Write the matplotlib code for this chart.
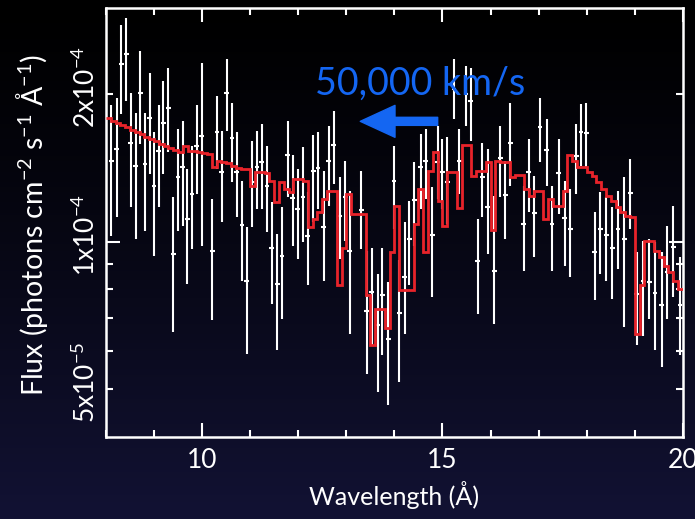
import numpy as np
import matplotlib
matplotlib.use('Agg')
import matplotlib.pyplot as plt
import matplotlib.transforms as mtransforms
from matplotlib.patches import ArrowStyle

plt.rcParams['font.family'] = ['Lato', 'DejaVu Sans']
plt.rcParams['mathtext.fontset'] = 'custom'
plt.rcParams['mathtext.rm'] = 'Lato'
plt.rcParams['mathtext.it'] = 'Lato:italic'
plt.rcParams['mathtext.bf'] = 'Lato:bold'

# observed spectrum (flux in 1e-4 photons cm^-2 s^-1 A^-1)
wave = [8.11, 8.22, 8.32, 8.42, 8.51, 8.62, 8.71, 8.81, 8.91, 9.00,
        9.10, 9.19, 9.30, 9.40, 9.50, 9.60, 9.69, 9.79, 9.89, 9.99,
        10.21, 10.31, 10.41, 10.51, 10.62, 10.72, 10.83, 10.93, 11.04, 11.14,
        11.24, 11.35, 11.45, 11.56, 11.66, 11.78, 11.88, 11.99,
        12.10, 12.20, 12.31, 12.41, 12.53, 12.63, 12.74, 12.86, 12.98, 13.07,
        13.31, 13.42, 13.53, 13.65, 13.75, 13.87, 13.99,
        14.10, 14.21, 14.31, 14.41, 14.55, 14.65, 14.79, 14.90, 15.00, 15.10,
        15.24, 15.35, 15.49, 15.59, 15.73, 15.83, 15.94,
        16.08, 16.20, 16.31, 16.41, 16.69, 16.79, 16.91, 17.03, 17.17, 17.28,
        17.42, 17.54, 17.66, 17.78, 17.88, 17.99,
        18.17, 18.28, 18.41, 18.53, 18.65, 18.78, 18.91, 19.04, 19.18, 19.30,
        19.42, 19.56, 19.68, 19.80, 19.94]
flux = [1.464, 1.546, 2.302, 2.412, 1.595, 1.430, 2.014, 1.441, 1.793, 1.302,
        1.534, 1.752, 1.873, 0.945, 1.354, 1.424, 1.114, 1.252, 1.570, 1.645,
        0.957, 1.677, 1.390, 2.014, 1.628, 1.386, 1.085, 0.832, 1.323, 1.419,
        1.453, 1.302, 0.974, 0.821, 0.934, 1.503, 1.229, 1.167,
        1.233, 1.030, 1.398, 1.413, 1.071, 1.464, 1.575, 1.131, 1.233, 0.960,
        1.163, 0.722, 0.790, 0.676, 0.778, 0.633, 1.333,
        0.717, 0.848, 1.014, 1.219, 1.419, 1.464, 1.033, 1.453, 1.386, 1.325,
        2.048, 1.464, 2.000, 1.939, 0.913, 1.354, 1.178,
        0.871, 1.482, 1.246, 1.595, 1.088, 1.386, 1.145, 1.717, 1.541, 1.088,
        1.381, 1.118, 1.063, 1.496, 1.675, 1.670,
        0.952, 1.063, 1.035, 0.972, 1.063, 1.014, 1.256, 0.784, 0.834, 0.829,
        0.788, 0.744, 0.868, 0.975, 0.742]
flux_hi = [1.902, 1.969, 2.776, 2.860, 2.014, 1.836, 2.450, 1.836, 2.214, 1.672,
           1.902, 2.129, 2.266, 1.233, 1.698, 1.766, 1.408, 1.570, 1.902, 2.320,
           1.223, 1.982, 1.685, 2.356, 1.924, 1.672, 1.333, 1.071, 1.607, 1.685,
           1.738, 1.570, 1.204, 1.038, 1.177, 1.766, 1.501, 1.408,
           1.559, 1.262, 1.651, 1.672, 1.398, 1.725, 1.850, 1.354, 1.464, 1.272,
           1.398, 0.960, 0.974, 0.861, 0.974, 0.828, 1.570,
           0.917, 1.096, 1.213, 1.453, 1.659, 1.698, 1.292, 1.725, 1.620, 1.635,
           2.356, 1.698, 2.283, 2.266, 1.114, 1.595, 1.546,
           1.243, 1.725, 1.464, 1.924, 1.302, 1.620, 1.365, 1.969, 1.779, 1.302,
           1.620, 1.333, 1.282, 1.738, 1.908, 1.924,
           1.149, 1.262, 1.233, 1.177, 1.272, 1.354, 1.475, 0.953, 1.006, 1.014,
           0.998, 0.953, 1.079, 1.185, 0.931]
flux_lo = [1.030, 1.122, 1.821, 1.939, 1.176, 1.014, 1.583, 1.055, 1.375, 0.938,
           1.177, 1.375, 1.523, 0.655, 1.055, 1.079, 0.822, 0.968, 1.252, 0.983,
           0.692, 1.408, 1.096, 1.685, 1.323, 1.122, 0.834, 0.592, 1.071, 1.167,
           1.167, 1.046, 0.748, 0.601, 0.697, 1.233, 0.983, 0.924,
           0.998, 0.815, 1.096, 1.167, 0.834, 1.185, 1.312, 0.924, 1.006, 0.650,
           0.968, 0.539, 0.615, 0.495, 0.587, 0.465, 1.063,
           0.519, 0.650, 0.815, 0.983, 1.167, 1.223, 0.772, 1.223, 1.167, 1.088,
           1.779, 1.252, 1.725, 1.607, 0.714, 1.122, 0.945,
           0.681, 1.235, 1.014, 1.302, 0.874, 1.149, 0.931, 1.453, 1.302, 0.874,
           1.140, 0.895, 0.848, 1.252, 1.430, 1.419,
           0.760, 0.861, 0.834, 0.766, 0.881, 0.671, 1.063, 0.615, 0.644, 0.697,
           0.601, 0.557, 0.697, 0.772, 0.587]

# absorbed model, 0.1 A bins from 8 to 20 A
model = [1.787, 1.766, 1.750, 1.730, 1.714, 1.694, 1.674, 1.659, 1.639, 1.620,
         1.605, 1.586, 1.568, 1.557, 1.539, 1.525, 1.570, 1.534, 1.532, 1.525,
         1.517, 1.510, 1.421, 1.462, 1.455, 1.448, 1.430, 1.414, 1.408, 1.408,
         1.302, 1.390, 1.390, 1.382, 1.333, 1.208, 1.323, 1.282, 1.262, 1.343,
         1.343, 1.331, 1.073, 1.114, 1.151, 1.223, 1.272, 1.272, 0.815, 0.974,
         1.252, 1.140, 1.140, 1.140, 0.778, 0.615, 0.731, 0.731, 0.668, 0.954,
         1.185, 0.799, 0.799, 0.799, 1.088, 1.282, 0.953, 1.398, 1.527, 1.213,
         1.079, 1.390, 1.390, 1.172, 1.575, 1.575, 1.365, 1.398, 1.398, 1.453,
         1.057, 1.464, 1.453, 1.453, 1.356, 1.369, 1.369, 1.282, 1.243, 1.272,
         1.272, 1.114, 1.223, 1.185, 1.185, 1.272, 1.503, 1.464, 1.419, 1.419,
         1.386, 1.365, 1.323, 1.282, 1.243, 1.213, 1.177, 1.149, 1.131, 1.122,
         0.650, 0.815, 1.006, 1.006, 0.960, 0.931, 0.895, 0.868, 0.834, 0.802]

ytick_vals = [5e-5, 1e-4, 2e-4]
ytick_text = [r'$\mathregular{5x10^{-5}}$', r'$\mathregular{1x10^{-4}}$',
              r'$\mathregular{2x10^{-4}}$']

scale = 1e-4
w = np.array(wave)
f = np.array(flux) * scale
yerr = [(np.array(flux) - np.array(flux_lo)) * scale,
        (np.array(flux_hi) - np.array(flux)) * scale]
edges = 8.0 + 0.1 * np.arange(len(model) + 1)

fig = plt.figure(figsize=(6.95, 5.19), dpi=100)

# dark backdrop: black at the top fading to navy at the bottom
bg = fig.add_axes([0, 0, 1, 1], zorder=0)
t = np.linspace(0, 1, 256) ** 1.25
grad = np.zeros((256, 1, 3))
grad[:, 0, 0] = 18 / 255 * t
grad[:, 0, 1] = 18 / 255 * t
grad[:, 0, 2] = 52 / 255 * t
bg.imshow(grad, aspect='auto', extent=[0, 1, 0, 1], origin='upper')
bg.set_axis_off()

ax = fig.add_axes([0.1525, 0.158, 0.83, 0.8265], zorder=1)
ax.set_facecolor('none')

ax.errorbar(w, f, yerr=yerr, xerr=0.05, fmt='none', ecolor='white',
            elinewidth=1.5, capsize=0, zorder=2)
ax.stairs(np.array(model) * scale, edges, color='#e8232a', linewidth=2.0,
          baseline=None, zorder=3)

ax.set_yscale('log')
ax.set_xlim(8, 20)
ax.set_ylim(4e-5, 3e-4)

ax.set_xticks([10, 15, 20])
ax.set_xticks(np.arange(8, 21, 1), minor=True)
ax.set_xticklabels(['10', '15', '20'])
ax.set_yticks([1e-4])
ax.set_yticks([5e-5, 6e-5, 7e-5, 8e-5, 9e-5, 2e-4], minor=True)
ax.yaxis.set_major_formatter(plt.NullFormatter())
ax.yaxis.set_minor_formatter(plt.NullFormatter())

ax.tick_params(which='both', direction='in', top=True, right=True,
               colors='white', labelsize=19, width=1.5)
ax.tick_params(which='major', length=10, pad=8)
ax.tick_params(which='minor', length=5, pad=8)
for sp in ax.spines.values():
    sp.set_color('white')
    sp.set_linewidth(1.8)

# rotated y tick labels, nudged a little above their ticks
lab_tr = mtransforms.blended_transform_factory(fig.transFigure, ax.transData)
lab_tr = lab_tr + mtransforms.ScaledTranslation(0, 5 / 72, fig.dpi_scale_trans)
for val, txt in zip(ytick_vals, ytick_text):
    ax.text(86 / 695, val, txt, transform=lab_tr, rotation=90, color='white',
            fontsize=19, ha='center', va='center')

ax.set_xlabel('Wavelength (Å)', color='white', fontsize=18, labelpad=6)
fig.text(32 / 695, (519 - 225) / 519,
         r'Flux (photons cm$^{-2}$ s$^{-1}$ Å$^{-1}$)', color='white',
         fontsize=20.5, rotation=90, ha='center', va='center')

blue = '#1466f2'
ax.text(14.54, 2.0e-4, '50,000 km/s', color=blue, fontsize=27,
        ha='center', va='baseline', zorder=4)
ax.annotate('', xy=(13.29, 1.762e-4), xytext=(14.90, 1.762e-4),
            arrowprops=dict(arrowstyle=ArrowStyle.Simple(head_length=2.5, head_width=2.3,
                                                         tail_width=0.58),
                            mutation_scale=10, color=blue, shrinkA=0, shrinkB=0),
            zorder=4)

fig.savefig('out.png', dpi=100)
